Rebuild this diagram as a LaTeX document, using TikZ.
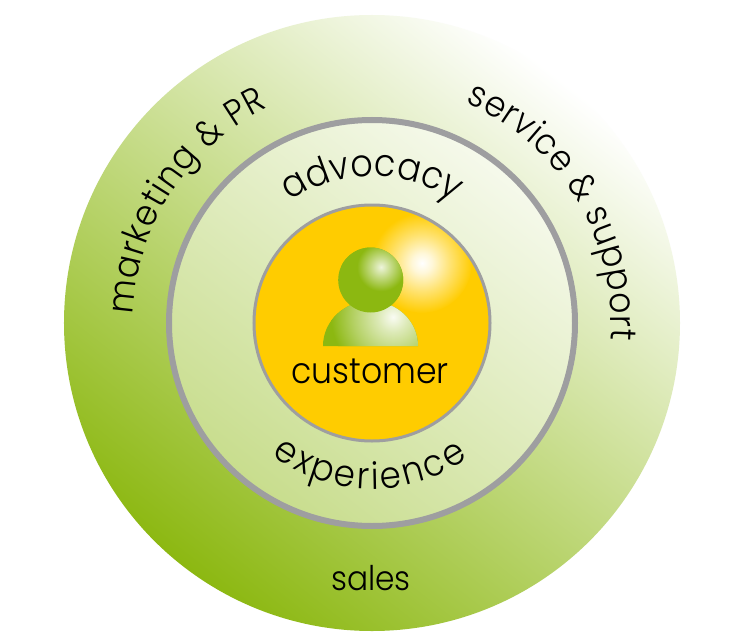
\documentclass[tikz,border=0pt]{standalone}
\usepackage{fontspec}
\setmainfont[FakeStretch=0.92]{Poppins Light}
\usetikzlibrary{decorations.text}
\definecolor{leaf}{HTML}{8CB811}
\definecolor{sun}{HTML}{FFCC00}
\definecolor{rim}{HTML}{9E9EA0}
\pgfdeclareradialshading{glowshade}{\pgfpoint{0bp}{0bp}}{color(0bp)=(white); color(5bp)=(white!85!sun); color(14bp)=(white!45!sun); color(25bp)=(sun); color(50bp)=(sun)}
\pgfdeclareradialshading{headshade}{\pgfpoint{0bp}{0bp}}{color(0bp)=(white!85!leaf); color(6bp)=(white!50!leaf); color(15bp)=(leaf); color(50bp)=(leaf)}
\pgfdeclareradialshading{bodyshade}{\pgfpoint{0bp}{0bp}}{color(0bp)=(white!95!leaf); color(6bp)=(white!70!leaf); color(16bp)=(white!35!leaf); color(25bp)=(leaf); color(50bp)=(leaf)}
\newcommand{\arctext}[5]{% start, end, radius, size, text
  \path[postaction={decorate,decoration={text along path,text align={fit to path},text={|\fontsize{#4}{#4}\selectfont|#5}}}]
    (#1:#3) arc[start angle=#1,end angle=#2,radius=#3];}
\begin{document}
\begin{tikzpicture}[x=1pt,y=1pt]
\useasboundingbox (-372,-317) rectangle (371,323);
\fill[white] (-372,-317) rectangle (371,323);
% outer disc
\shade[top color=white,middle color=leaf!58!white,bottom color=leaf,shading angle=-38] (0,0) circle[radius=308];
% middle disc
\shade[top color=white!92!leaf,bottom color=white!52!leaf,shading angle=-38] (0,0) circle[radius=203];
\draw[rim,line width=6pt] (0,0) circle[radius=203];
% centre disc
\fill[sun] (0,0) circle[radius=118];
\begin{scope}
  \clip (0,0) circle[radius=118];
  \shade[shading=glowshade] (50,60) circle[radius=50];
\end{scope}
\draw[rim,line width=3pt] (0,0) circle[radius=118];
% person
\begin{scope}
  \clip (-49,-23) arc[start angle=180,end angle=0,x radius=47.5,y radius=45] -- cycle;
  \fill[leaf] (-60,-30) rectangle (60,40);
  \shade[shading=bodyshade] (21,6) circle[radius=62];
\end{scope}
\fill[leaf] (-1.3,43) circle[radius=32.5];
\begin{scope}
  \clip (-1.3,43) circle[radius=32.5];
  \shade[shading=headshade] (9,56) circle[radius=40];
\end{scope}
% texts
\node[anchor=base,font=\fontsize{36}{36}\selectfont] (customer) at (-2,-60) {customer};
\node[anchor=base,font=\fontsize{34}{34}\selectfont] (sales) at (-1,-267) {sales};
\arctext{178}{115.8}{239}{36}{marketing {\&} PR}
\arctext{67}{-4}{239}{36}{service {\&} support}
\arctext{124}{56}{147}{38}{advocacy}
\arctext{233}{305.4}{166}{37}{experience}
\end{tikzpicture}
\end{document}
